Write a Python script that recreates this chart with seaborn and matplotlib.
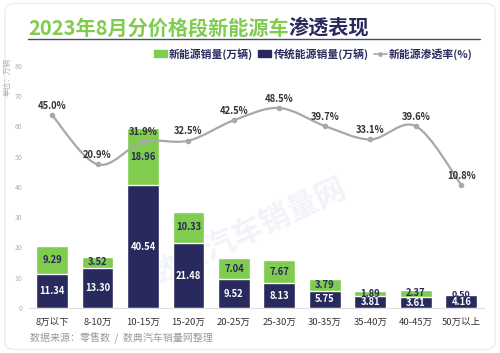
import pandas as pd
import matplotlib.pyplot as plt
import seaborn as sns
from matplotlib.path import Path
from matplotlib.patches import PathPatch, Patch, FancyBboxPatch
from matplotlib.lines import Line2D

# data
price_bands = ["8万以下", "8-10万", "10-15万", "15-20万", "20-25万",
               "25-30万", "30-35万", "35-40万", "40-45万", "50万以上"]
trad_sales = [11.34, 13.30, 40.54, 21.48, 9.52, 8.13, 5.75, 3.81, 3.61, 4.16]
nev_sales = [9.29, 3.52, 18.96, 10.33, 7.04, 7.67, 3.79, 1.89, 2.37, 0.50]
nev_rate = [45.0, 20.9, 31.9, 32.5, 42.5, 48.5, 39.7, 33.1, 39.6, 10.8]

GREEN = "#80cc4e"
NAVY = "#28295c"
GREY_LINE = "#a8a8a8"

df = pd.DataFrame({"price": price_bands, "trad": trad_sales, "nev": nev_sales, "rate": nev_rate})
df["total"] = df["trad"] + df["nev"]

sns.set_style("white")
plt.rcParams["font.family"] = ["Noto Sans CJK SC", "DejaVu Sans"]

fig = plt.figure(figsize=(5, 3.53), dpi=100)
fig.add_artist(FancyBboxPatch((0.01, 0.01), 0.98, 0.98, boxstyle="round,pad=0,rounding_size=0.02",
                              transform=fig.transFigure, fc="white", ec="#ececec", lw=1, zorder=-5))
ax = fig.add_axes([0.0586, 0.1275, 0.9094, 0.6856])
ax.set_facecolor("none")

# stacked bars: total in green, traditional on top of it in navy
sns.barplot(data=df, x="price", y="total", color=GREEN, width=0.7, saturation=1, ax=ax)
sns.barplot(data=df, x="price", y="trad", color=NAVY, width=0.7, saturation=1, ax=ax)

ax.set_xlim(-0.5, len(price_bands) - 0.5)
ax.set_ylim(0, 80)
ax.set_yticks(range(0, 81, 10))
ax.set_xlabel("")
ax.set_ylabel("")
ax.tick_params(axis="y", length=0, labelsize=5, labelcolor="#b0b0b0", pad=5)
ax.tick_params(axis="x", length=0, labelsize=6.8, labelcolor="#333333", pad=7)
for s in ["top", "left", "right"]:
    ax.spines[s].set_visible(False)
ax.spines["bottom"].set_color("#dddddd")

for i, row in df.iterrows():
    ax.text(i, row["trad"] / 2, f"{row['trad']:.2f}", ha="center", va="center",
            color="white", fontsize=6.8, fontweight="bold")
    ax.text(i, row["trad"] + row["nev"] / 2, f"{row['nev']:.2f}", ha="center", va="center",
            color=NAVY, fontsize=6.5 if row["nev"] < 1 else 6.8, fontweight="bold")

# watermark
ax.text(4.3, 25, "数典汽车销量网", rotation=25, ha="center", va="center", fontsize=22,
        fontweight="bold", color="#9fb3d9", alpha=0.15, zorder=0)

# penetration rate line on a hidden second axis, smoothed with bezier segments
ax2 = ax.twinx()
ax2.set_ylim(-49.5, 69.1)
ax2.axis("off")
pts = list(zip(range(len(nev_rate)), nev_rate))
verts = [pts[0]]
codes = [Path.MOVETO]
for k in range(len(pts) - 1):
    p0 = pts[k - 1] if k > 0 else pts[k]
    p1, p2 = pts[k], pts[k + 1]
    p3 = pts[k + 2] if k + 2 < len(pts) else pts[k + 1]
    c1 = (p1[0] + (p2[0] - p0[0]) / 6, p1[1] + (p2[1] - p0[1]) / 6)
    c2 = (p2[0] - (p3[0] - p1[0]) / 6, p2[1] - (p3[1] - p1[1]) / 6)
    verts += [c1, c2, p2]
    codes += [Path.CURVE4] * 3
ax2.add_patch(PathPatch(Path(verts, codes), fc="none", ec=GREY_LINE, lw=1.6))
ax2.plot(range(len(nev_rate)), nev_rate, "o", color=GREY_LINE, ms=3)
for i, r in enumerate(nev_rate):
    ax2.text(i, r + 4.6, f"{r:.1f}%", ha="center", va="center", fontsize=6.8,
             fontweight="bold", color="#333333", clip_on=False)

# title in two colours with underline
t1 = fig.text(0.056, 0.922, "2023年8月分价格段新能源车", color=GREEN, fontsize=14.5,
              fontweight="bold", ha="left", va="center")
ax.annotate("渗透表现", xy=(1, 0.5), xycoords=t1, ha="left", va="center", color=NAVY,
            fontsize=14.5, fontweight="bold", annotation_clip=False)
fig.add_artist(Line2D([0.056, 0.96], [0.889, 0.889], transform=fig.transFigure, color="#4a4a72", lw=1))

handles = [Patch(color=GREEN), Patch(color=NAVY),
           Line2D([0], [0], color=GREY_LINE, lw=1.2, marker="o", ms=2.5)]
labels = ["新能源销量(万辆)", "传统能源销量(万辆)", "新能源渗透率(%)"]
leg = fig.legend(handles, labels, loc="center right", bbox_to_anchor=(0.965, 0.847), ncol=3,
                 frameon=False, prop={"size": 7.8, "weight": "bold"}, handlelength=1.2,
                 handleheight=0.6, columnspacing=0.5, handletextpad=0.2)
for t in leg.get_texts():
    t.set_color(NAVY)

fig.text(0.016, 0.782, "单位：万辆", rotation=90, ha="center", va="center", fontsize=5.5, color="#b0b0b0")
fig.text(0.06, 0.0425, "数据来源：零售数  /  数典汽车销量网整理", ha="left", va="center",
         fontsize=7.2, color="#999999")

fig.savefig("out.png", dpi=100)
